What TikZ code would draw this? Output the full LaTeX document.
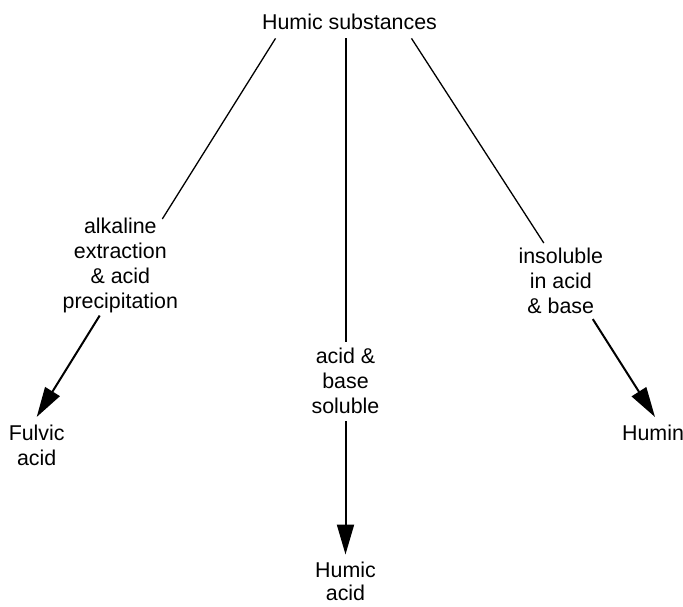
\documentclass[tikz,border=0pt]{standalone}
\usepackage{fontspec}
\setmainfont{Liberation Sans}
\usepackage{tikz}
\usetikzlibrary{
  arrows.meta,
  positioning
}

\tikzset{
  lbl/.style={inner sep=0pt, align=center, font=\fontsize{21.4}{25}\selectfont},
  thinline/.style={line width=1.3pt},
  stemline/.style={line width=2pt},
  arr/.style={-{Triangle[length=30pt,width=17pt]}, line width=2pt}
}

\begin{document}
\begin{tikzpicture}[x=1pt,y=1pt]
    \useasboundingbox (0,0) rectangle (683,606);

    % Source
    \node[lbl, anchor=base] (top) at (349.5,576) {Humic substances};

    % Treatments
    \node[lbl, anchor=north] (alk) at (120.3,388) {alkaline\\extraction\\\& acid\\precipitation};
    \node[lbl, anchor=north] (sol) at (345.5,258) {acid \&\\base\\soluble};
    \node[lbl, anchor=north] (ins) at (560.8,358) {insoluble\\in acid\\\& base};

    % Fractions
    \node[lbl, anchor=north] (ful) at (36.7,181) {Fulvic\\acid};
    \node[lbl, anchor=north, font=\fontsize{21.4}{23.5}\selectfont] (hac) at (345.5,44.5) {Humic\\acid};
    \node[lbl, anchor=north] (hmn) at (653,181) {Humin};

    % Lines from the source
    \draw[thinline] ([xshift=-74pt,yshift=-8pt]top.south) -- ([xshift=42pt,yshift=-1pt]alk.north);
    \draw[stemline] ([xshift=-4pt,yshift=-8pt]top.south) -- ([yshift=6pt]sol.north);
    \draw[thinline] ([xshift=62pt,yshift=-8pt]top.south) -- ([xshift=-17pt,yshift=5pt]ins.north);

    % Arrows to the fractions
    \draw[arr] ([xshift=-20.6pt,yshift=-2.2pt]alk.south) -- ([yshift=8pt]ful.north);
    \draw[arr] ([yshift=-7pt]sol.south) -- ([yshift=7pt]hac.north);
    \draw[arr] ([xshift=32pt,yshift=-5pt]ins.south) -- ([xshift=2pt,yshift=8pt]hmn.north);
\end{tikzpicture}
\end{document}
